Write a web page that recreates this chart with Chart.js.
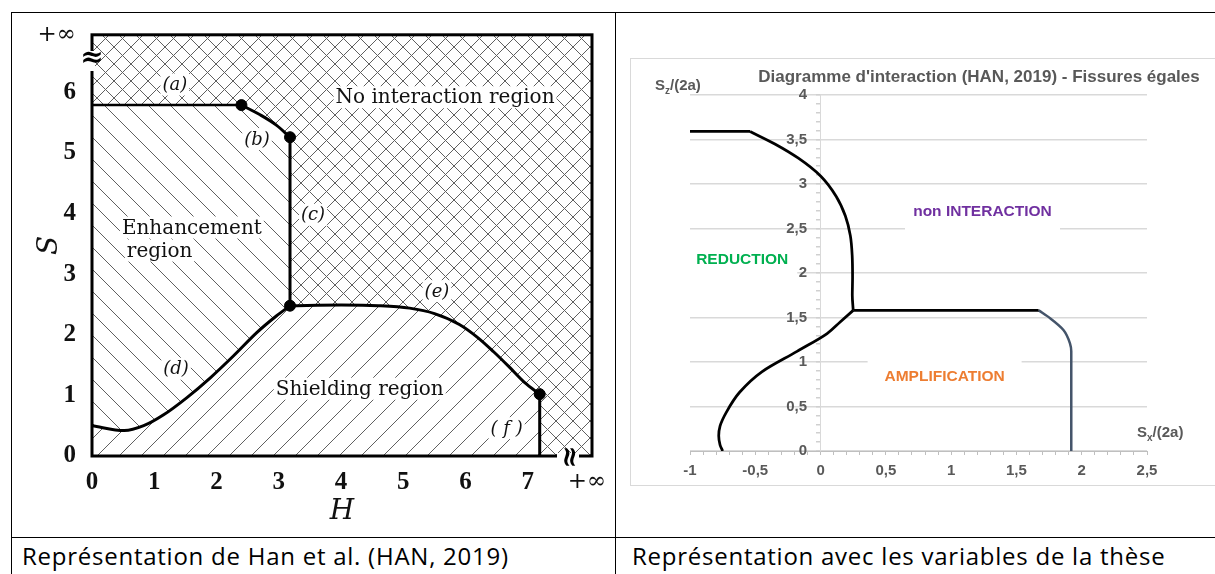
<!DOCTYPE html>
<html>
<head>
<meta charset="utf-8">
<script src="https://cdn.jsdelivr.net/npm/chart.js@4.4.1/dist/chart.umd.min.js"></script>
<style>
  html, body { margin: 0; padding: 0; background: #fff; width: 1215px; height: 574px; overflow: hidden; position: relative; }
  .ln { position: absolute; background: #000; }
  #leftWrap { position: absolute; left: 12px; top: 13px; width: 603px; height: 524px; }
  #rightBox { position: absolute; left: 630px; top: 58px; width: 700px; height: 428px; border: 1px solid #d9d9d9; box-sizing: border-box; }
  #rightWrap { position: absolute; left: 631px; top: 59px; width: 584px; height: 426px; }
  .cap { position: absolute; top: 539px; font-family: 'Open Sans', sans-serif; font-size: 24px; letter-spacing: 0.75px; color: #000; white-space: nowrap; }
</style>
</head>
<body>
<div class="ln" style="left:11px;top:12px;width:1204px;height:1px"></div>
<div class="ln" style="left:11px;top:12px;width:1px;height:562px"></div>
<div class="ln" style="left:615px;top:12px;width:1px;height:562px"></div>
<div class="ln" style="left:11px;top:537px;width:1204px;height:1px"></div>

<div id="leftWrap"><canvas id="han"></canvas></div>
<div id="rightBox"></div>
<div id="rightWrap"><canvas id="these"></canvas></div>

<div class="cap" style="left:22px">Représentation de Han et al. (HAN, 2019)</div>
<div class="cap" style="left:632px">Représentation avec les variables de la thèse</div>

<script>
// ---------- left diagram : Han et al. (H, S) ----------
const hTicks = [0, 1, 2, 3, 4, 5, 6, 7, 7.95];
const hTickLabels = ['0', '1', '2', '3', '4', '5', '6', '7', '+∞'];
const sTicks = [0, 1, 2, 3, 4, 5, 6, 6.95];
const sTickLabels = ['0', '1', '2', '3', '4', '5', '6', '+∞'];

const curveA = [[0, 5.79], [2.4, 5.79]];
const curveB = [[2.4, 5.79], [2.7, 5.63], [2.96, 5.46], [3.18, 5.26]];
const curveC = [[3.18, 5.26], [3.18, 2.48]];
const curveD = [[0, 0.5], [0.52, 0.42], [0.83, 0.5], [1.15, 0.68], [1.52, 0.96], [1.9, 1.29],
                [2.27, 1.65], [2.65, 2.04], [2.96, 2.31], [3.18, 2.48]];
const curveE = [[3.18, 2.48], [4.0, 2.49], [4.6, 2.48], [5.1, 2.44], [5.5, 2.35], [5.9, 2.17],
                [6.2, 1.95], [6.45, 1.72], [6.7, 1.47], [6.95, 1.21], [7.19, 1.02]];
const curveF = [[7.19, 1.02], [7.19, 0]];
const junctions = [[2.4, 5.79], [3.18, 5.26], [3.18, 2.48], [7.19, 1.02]];

// ---------- right diagram : Sx/(2a), Sz/(2a) ----------
const sxMin = -1, sxMax = 2.5, szMin = 0, szMax = 4;
const topFlat = [[-1, 3.59], [-0.54, 3.59]];
const topCurve = [[-0.54, 3.59], [-0.35, 3.45], [-0.17, 3.29], [0, 3.09], [0.12, 2.86], [0.19, 2.64],
                  [0.228, 2.42], [0.242, 2.2], [0.245, 1.95], [0.243, 1.75], [0.25, 1.58]];
const lowCurve = [[0.25, 1.58], [0.15, 1.45], [0.05, 1.32], [-0.18, 1.12], [-0.45, 0.89], [-0.62, 0.66],
                  [-0.72, 0.44], [-0.77, 0.28], [-0.78, 0.17], [-0.77, 0.07], [-0.75, 0]];
const midFlat = [[0.25, 1.58], [1.67, 1.58]];
const rightCurve = [[1.67, 1.58], [1.76, 1.49], [1.86, 1.36], [1.91, 1.21], [1.92, 1.12], [1.92, 0]];

const pts = arr => arr.map(p => ({x: p[0], y: p[1]}));

function hatch(size, dirs, color) {
    let c = document.createElement('canvas');
    c.width = size; c.height = size;
    let g = c.getContext('2d');
    g.fillStyle = '#fff';
    g.fillRect(0, 0, size, size);
    g.strokeStyle = color;
    g.lineWidth = 1;
    for (let d of dirs) {
        for (let k = -1; k <= 1; ++k) {
            g.beginPath();
            if (d === '\\') { g.moveTo(k * size, 0); g.lineTo(k * size + size, size); }
            else { g.moveTo(k * size + size, 0); g.lineTo(k * size, size); }
            g.stroke();
        }
    }
    return g.createPattern(c, 'repeat');
}

const crossPat = hatch(17, ['\\', '/'], '#606060');
const backPat = hatch(22, ['\\'], '#606060');
const fwdPat = hatch(22, ['/'], '#606060');

// polygons of the two hatched regions, built from the boundary curves
const enhancementZone = [[0, 0.5]].concat(curveD.slice(1), curveC.slice(1).reverse(),
    [curveC[0]], curveB.slice().reverse().slice(1), [[0, curveA[0][1]]]);
const shieldingZone = [[0, 0]].concat(curveD, curveE.slice(1), curveF.slice(1));

const hanLabels = [
    {t: '(a)', x: 1.33, y: 6.13, font: 'italic 18px "DejaVu Serif"'},
    {t: '(b)', x: 2.65, y: 5.23, font: 'italic 18px "DejaVu Serif"'},
    {t: '(c)', x: 3.55, y: 3.98, font: 'italic 18px "DejaVu Serif"'},
    {t: '(d)', x: 1.35, y: 1.44, font: 'italic 18px "DejaVu Serif"'},
    {t: '(e)', x: 5.54, y: 2.72, font: 'italic 18px "DejaVu Serif"'},
    {t: '( f )', x: 6.66, y: 0.46, font: 'italic 18px "DejaVu Serif"'},
    {t: 'No interaction region', x: 5.67, y: 5.92, font: '20px "DejaVu Serif"'},
    {t: 'Enhancement', x: 0.48, y: 3.77, font: '20px "DejaVu Serif"', align: 'left'},
    {t: 'region', x: 0.56, y: 3.39, font: '20px "DejaVu Serif"', align: 'left'},
    {t: 'Shielding region', x: 4.3, y: 1.11, font: '20px "DejaVu Serif"'}
];

const hanPlugin = {
    id: 'hanDecor',
    beforeDatasetsDraw(chart) {
        let {ctx, chartArea: a} = chart;
        ctx.save();
        ctx.fillStyle = crossPat;
        ctx.fillRect(a.left, a.top, a.right - a.left, a.bottom - a.top);
        ctx.restore();
    },
    afterDatasetsDraw(chart) {
        let {ctx, chartArea: a, scales} = chart;
        ctx.save();
        // frame
        ctx.strokeStyle = '#000';
        ctx.lineWidth = 3;
        ctx.strokeRect(a.left, a.top, a.right - a.left, a.bottom - a.top);
        // axis breaks
        ctx.fillStyle = '#fff';
        ctx.fillRect(a.left - 3, 38, 6, 20);
        ctx.fillRect(545, a.bottom - 3, 22, 6);
        ctx.fillStyle = '#000';
        ctx.font = 'bold 28px "DejaVu Serif"';
        ctx.textAlign = 'center';
        ctx.textBaseline = 'middle';
        ctx.fillText('≈', a.left, 46);
        ctx.save();
        ctx.translate(556, a.bottom + 1);
        ctx.rotate(Math.PI / 2);
        ctx.fillText('≈', 0, 0);
        ctx.restore();
        // region labels
        for (let l of hanLabels) {
            ctx.font = l.font;
            let px = scales.x.getPixelForValue(l.x);
            let py = scales.y.getPixelForValue(l.y);
            let w = ctx.measureText(l.t).width;
            let x0 = l.align === 'left' ? px : px - w / 2;
            ctx.fillStyle = '#fff';
            ctx.fillRect(x0 - 2, py - 11, w + 4, 22);
            ctx.fillStyle = '#111';
            ctx.textAlign = 'left';
            ctx.fillText(l.t, x0, py + 1);
        }
        ctx.restore();
    }
};

const lineSet = (data, width, extra) => Object.assign({
    type: 'line', data: pts(data), borderColor: '#000', borderWidth: width,
    pointRadius: 0, fill: false, order: 1, cubicInterpolationMode: 'monotone'
}, extra || {});

const infFont = {family: 'DejaVu Serif', size: 23, weight: 'normal'};
const digitFont = {family: 'Liberation Serif', size: 25, weight: 'bold'};

new Chart(document.getElementById('han'), {
    type: 'scatter',
    data: {
        datasets: [
            {type: 'scatter', data: pts(junctions), pointRadius: 5.5, backgroundColor: '#000',
             borderColor: '#000', order: 0},
            lineSet(curveA, 2.5),
            lineSet(curveB, 3),
            lineSet(curveC, 3),
            lineSet(curveD, 3),
            lineSet(curveE, 3),
            lineSet(curveF, 3),
            {type: 'line', data: pts(enhancementZone), borderWidth: 0, pointRadius: 0,
             fill: 'shape', backgroundColor: backPat, order: 5},
            {type: 'line', data: pts(shieldingZone), borderWidth: 0, pointRadius: 0,
             fill: 'shape', backgroundColor: fwdPat, order: 5}
        ]
    },
    options: {
        animation: false,
        responsive: true,
        maintainAspectRatio: false,
        layout: {padding: {left: 0, top: 19, right: 23, bottom: 0}},
        plugins: {legend: {display: false}, tooltip: {enabled: false}},
        scales: {
            x: {
                type: 'linear', min: 0, max: 8.03,
                grid: {display: false}, border: {display: false},
                afterBuildTicks: s => { s.ticks = hTicks.map(v => ({value: v})); },
                afterFit: s => { s.height = 81; },
                ticks: {
                    autoSkip: false, maxRotation: 0, padding: 4, color: '#111',
                    callback: (v, i) => hTickLabels[i],
                    font: c => c.index === hTicks.length - 1 ? infFont : digitFont
                },
                title: {display: true, text: 'H', color: '#111', padding: {top: 0, bottom: 8},
                        font: {family: 'DejaVu Serif', size: 28, style: 'italic'}}
            },
            y: {
                type: 'linear', min: 0, max: 6.95,
                grid: {display: false}, border: {display: false},
                afterBuildTicks: s => { s.ticks = sTicks.map(v => ({value: v})); },
                afterFit: s => { s.width = 80; },
                ticks: {
                    autoSkip: false, padding: 8, color: '#111',
                    callback: (v, i) => sTickLabels[i],
                    font: c => c.index === sTicks.length - 1 ? infFont : digitFont
                },
                title: {display: true, text: 'S', color: '#111', padding: {top: 21, bottom: 0},
                        font: {family: 'DejaVu Serif', size: 28, style: 'italic'}}
            }
        }
    },
    plugins: [hanPlugin]
});

// ---------- right chart ----------
const majorStep = 0.5;
const isMajor = v => Math.abs(v / majorStep - Math.round(v / majorStep)) < 1e-6;
const fmt = v => String(Math.round(v * 10) / 10).replace('.', ',');
const gray = '#595959';

const zoneLabels = [
    {t: 'non INTERACTION', x: 1.24, y: 2.69, color: '#7030A0', boxW: 155},
    {t: 'AMPLIFICATION', x: 0.95, y: 0.83, color: '#ED7D31', boxW: 154},
    {t: 'REDUCTION', x: -0.6, y: 2.15, color: '#00B050', boxW: 110}
];

function subLabel(ctx, x, y, main, sub, rest) {
    ctx.font = 'bold 15px "Liberation Sans"';
    ctx.fillText(main, x, y);
    let w = ctx.measureText(main).width;
    ctx.font = 'bold 10px "Liberation Sans"';
    ctx.fillText(sub, x + w, y + 5);
    let w2 = ctx.measureText(sub).width;
    ctx.font = 'bold 15px "Liberation Sans"';
    ctx.fillText(rest, x + w + w2, y);
}

const thesePlugin = {
    id: 'theseDecor',
    beforeDatasetsDraw(chart) {
        let {ctx, scales} = chart;
        ctx.save();
        ctx.font = 'bold 15.5px "Liberation Sans"';
        ctx.textAlign = 'center';
        ctx.textBaseline = 'middle';
        for (let l of zoneLabels) {
            let px = scales.x.getPixelForValue(l.x);
            let py = scales.y.getPixelForValue(l.y);
            ctx.fillStyle = '#fff';
            ctx.fillRect(px - l.boxW / 2, py - 19, l.boxW, 38);
            ctx.fillStyle = l.color;
            ctx.fillText(l.t, px, py);
        }
        ctx.restore();
    },
    afterDraw(chart) {
        let ctx = chart.ctx;
        ctx.save();
        ctx.fillStyle = gray;
        ctx.textBaseline = 'middle';
        ctx.font = 'bold 17px "Liberation Sans"';
        ctx.textAlign = 'center';
        ctx.fillText("Diagramme d'interaction (HAN, 2019) - Fissures égales", 348, 18);
        ctx.textAlign = 'left';
        subLabel(ctx, 24, 27, 'S', 'z', '/(2a)');
        subLabel(ctx, 506, 374, 'S', 'x', '/(2a)');
        ctx.restore();
    }
};

const curveSet = (data, color, width, extra) => Object.assign({
    type: 'line', data: pts(data), borderColor: color, borderWidth: width,
    pointRadius: 0, fill: false, tension: 0
}, extra || {});
// smooth curves running downward: interpolate monotonically along the vertical axis
const alongY = {indexAxis: 'y', cubicInterpolationMode: 'monotone'};

new Chart(document.getElementById('these'), {
    type: 'scatter',
    data: {
        datasets: [
            curveSet(topFlat, '#000', 2.75),
            curveSet(topCurve, '#000', 2.75, alongY),
            curveSet(lowCurve, '#000', 2.75, alongY),
            curveSet(midFlat, '#000', 2.75),
            curveSet(rightCurve, '#44546A', 2.5, alongY)
        ]
    },
    options: {
        animation: false,
        responsive: true,
        maintainAspectRatio: false,
        layout: {padding: {left: 59, top: 36, right: 68, bottom: 0}},
        plugins: {legend: {display: false}, tooltip: {enabled: false}},
        scales: {
            x: {
                type: 'linear', min: sxMin, max: sxMax, position: 'bottom',
                afterBuildTicks: s => {
                    let t = [];
                    for (let i = 0; i <= Math.round((sxMax - sxMin) * 10); ++i) t.push({value: sxMin + i / 10});
                    s.ticks = t;
                },
                afterFit: s => { s.height = 34; },
                grid: {drawOnChartArea: false, color: '#bfbfbf', tickColor: '#bfbfbf', tickLength: 4},
                border: {color: '#bfbfbf', width: 1},
                ticks: {
                    autoSkip: false, maxRotation: 0, padding: 7, color: gray,
                    font: {family: 'Liberation Sans', size: 15, weight: 'bold'},
                    callback: v => isMajor(v) ? fmt(v) : ''
                }
            },
            y: {
                type: 'linear', min: szMin, max: szMax, position: {x: 0},
                afterBuildTicks: s => {
                    let t = [];
                    for (let i = 0; i <= Math.round((szMax - szMin) * 10); ++i) t.push({value: szMin + i / 10});
                    s.ticks = t;
                },
                grid: {
                    color: c => (c.tick && isMajor(c.tick.value)) ? '#d9d9d9' : 'rgba(0,0,0,0)',
                    tickColor: '#d0d0d0', tickLength: 4, lineWidth: 1.5
                },
                border: {color: '#d9d9d9', width: 1},
                ticks: {
                    autoSkip: false, color: gray,
                    font: {family: 'Liberation Sans', size: 15, weight: 'bold'},
                    // labels of an axis placed at x = 0 are right-aligned on the axis line: keep a gap
                    callback: v => isMajor(v) ? fmt(v) + '\u2002\u2009\u2009' : ''
                }
            }
        }
    },
    plugins: [thesePlugin]
});
</script>
</body>
</html>
